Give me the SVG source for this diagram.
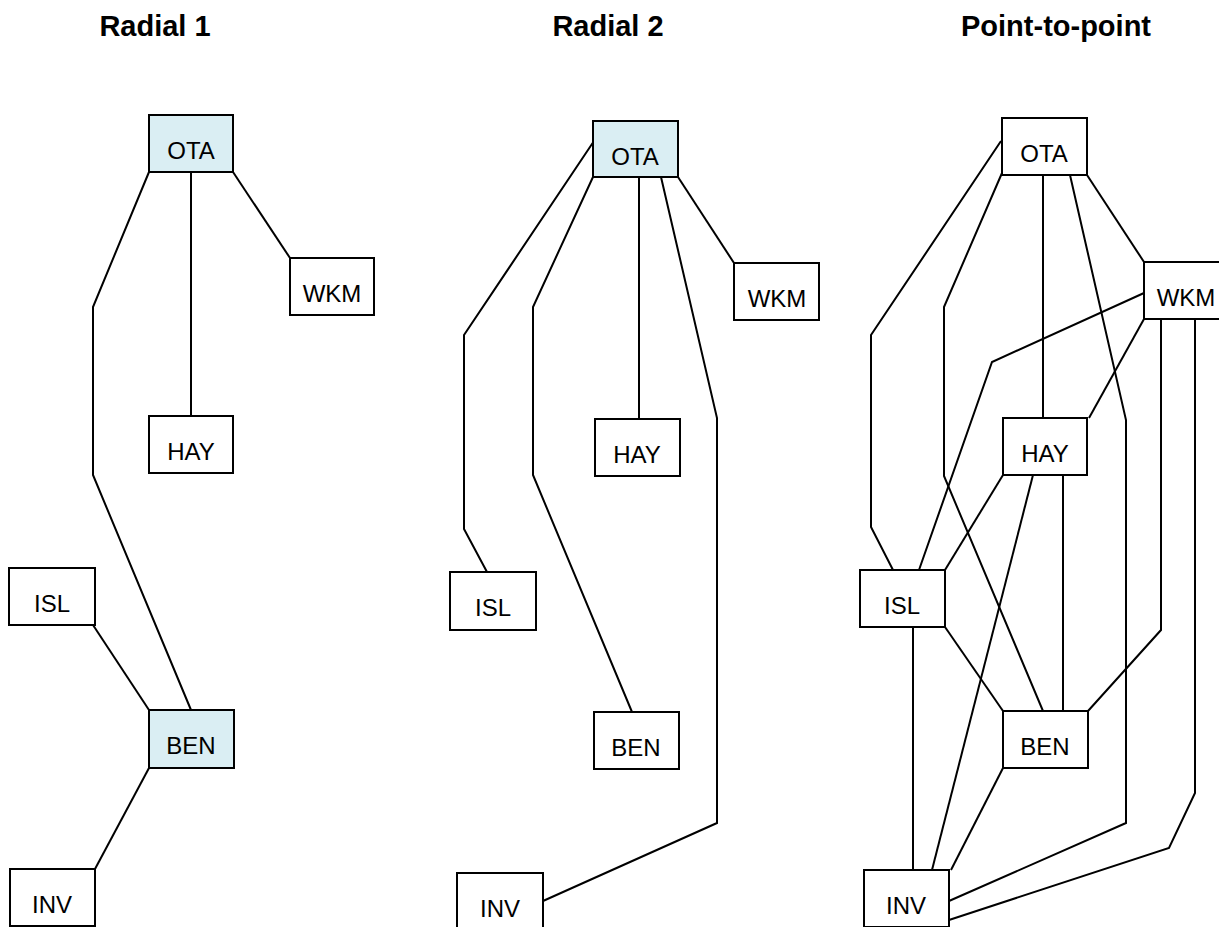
<svg xmlns="http://www.w3.org/2000/svg" width="1219" height="927" viewBox="0 0 1219 927">
<style>
.box{fill:#ffffff;stroke:#000000;stroke-width:2}
.hub{fill:#daeef3;stroke:#000000;stroke-width:2}
.lbl{font-family:"Liberation Sans",Arial,sans-serif;font-size:24px;fill:#000000;text-anchor:middle}
.title{font-family:"Liberation Sans",Arial,sans-serif;font-size:29px;font-weight:bold;fill:#000000;text-anchor:middle}
.conn polyline{fill:none;stroke:#000000;stroke-width:2;stroke-linejoin:miter}
</style>
<rect x="0" y="0" width="1219" height="927" fill="#ffffff"/>
<g id="titles">
<text class="title" x="155" y="36">Radial 1</text>
<text class="title" x="608" y="36">Radial 2</text>
<text class="title" x="1056" y="36">Point-to-point</text>
</g>
<g id="connectors" class="conn">
<!-- Radial 1 -->
<polyline points="149,172 93,307 93,475 191,710"/>
<polyline points="191,172 191,416"/>
<polyline points="233,172 290,258"/>
<polyline points="93,625 149,710"/>
<polyline points="149,768 95,869"/>
<!-- Radial 2 -->
<polyline points="594,141 464,335 464,529 487,572"/>
<polyline points="593,177 533,307 533,475 632,712"/>
<polyline points="639,177 639,419"/>
<polyline points="661,177 717,418 717,823 543,901"/>
<polyline points="678,177 734,263"/>
<!-- Point-to-point -->
<polyline points="1001,141 871,335 871,527 893,570"/>
<polyline points="1002,173 944,307 944,476 1043,711"/>
<polyline points="1043,175 1043,418"/>
<polyline points="1070,175 1126,420 1126,823 949,901"/>
<polyline points="1087,175 1144,262"/>
<polyline points="1144,293 992,362 919,570"/>
<polyline points="1144,319 1089,418"/>
<polyline points="1161,319 1161,630 1088,711"/>
<polyline points="1195,319 1195,793 1169,848 949,920"/>
<polyline points="1003,475 945,570"/>
<polyline points="1033,475 932,870"/>
<polyline points="1063,475 1063,711"/>
<polyline points="913,627 913,870"/>
<polyline points="945,627 1003,711"/>
<polyline points="1003,768 951,870"/>
</g>
<g id="r1-ota"><rect class="hub" x="149" y="115" width="84" height="57"/><text class="lbl" x="191" y="159">OTA</text></g>
<g id="r1-wkm"><rect class="box" x="290" y="258" width="84" height="57"/><text class="lbl" x="332" y="302">WKM</text></g>
<g id="r1-hay"><rect class="box" x="149" y="416" width="84" height="57"/><text class="lbl" x="191" y="460">HAY</text></g>
<g id="r1-isl"><rect class="box" x="9" y="568" width="86" height="57"/><text class="lbl" x="52" y="612">ISL</text></g>
<g id="r1-ben"><rect class="hub" x="149" y="710" width="85" height="58"/><text class="lbl" x="191" y="754">BEN</text></g>
<g id="r1-inv"><rect class="box" x="10" y="869" width="85" height="57"/><text class="lbl" x="52" y="913">INV</text></g>

<g id="r2-ota"><rect class="hub" x="593" y="121" width="85" height="56"/><text class="lbl" x="635" y="165">OTA</text></g>
<g id="r2-wkm"><rect class="box" x="734" y="263" width="85" height="57"/><text class="lbl" x="777" y="307">WKM</text></g>
<g id="r2-hay"><rect class="box" x="595" y="419" width="85" height="57"/><text class="lbl" x="637" y="463">HAY</text></g>
<g id="r2-isl"><rect class="box" x="450" y="572" width="86" height="58"/><text class="lbl" x="493" y="616">ISL</text></g>
<g id="r2-ben"><rect class="box" x="594" y="712" width="85" height="57"/><text class="lbl" x="636" y="756">BEN</text></g>
<g id="r2-inv"><rect class="box" x="457" y="873" width="86" height="57"/><text class="lbl" x="500" y="917">INV</text></g>

<g id="p-ota"><rect class="box" x="1002" y="118" width="85" height="57"/><text class="lbl" x="1044" y="162">OTA</text></g>
<g id="p-wkm"><rect class="box" x="1144" y="262" width="85" height="57"/><text class="lbl" x="1186" y="306">WKM</text></g>
<g id="p-hay"><rect class="box" x="1003" y="418" width="84" height="57"/><text class="lbl" x="1045" y="462">HAY</text></g>
<g id="p-isl"><rect class="box" x="860" y="570" width="85" height="57"/><text class="lbl" x="902" y="614">ISL</text></g>
<g id="p-ben"><rect class="box" x="1003" y="711" width="85" height="57"/><text class="lbl" x="1045" y="755">BEN</text></g>
<g id="p-inv"><rect class="box" x="864" y="870" width="85" height="57"/><text class="lbl" x="906" y="914">INV</text></g>
</svg>
